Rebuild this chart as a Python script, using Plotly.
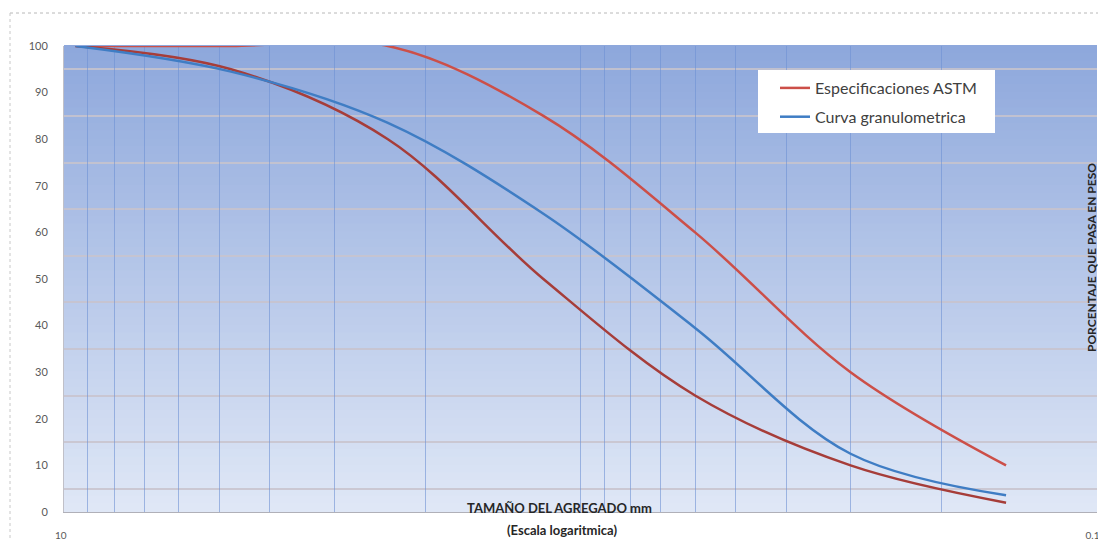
import plotly.graph_objects as go

# ---- data ----
sizes_mm = [9.5, 4.75, 2.36, 1.18, 0.6, 0.3, 0.15]
astm_upper = [100, 100, 100, 85, 60, 30, 10]
astm_lower = [100, 95, 80, 50, 25, 10, 2]
curva_granulometrica = [100, 94.5, 83.5, 64, 39.5, 12.5, 3.6]

x_grid_vals = [10, 9, 8, 7, 6, 5, 4, 3, 2, 1, 0.9, 0.8, 0.7, 0.6, 0.5, 0.4, 0.3, 0.2, 0.1]
x_tick_text = ["10"] + [""] * 17 + ["0.1"]
y_tick_vals = [0, 10, 20, 30, 40, 50, 60, 70, 80, 90, 100]

# page body has an 8px margin: work in screen pixels, convert to figure pixels
OFF = 8
W, H = 1106, 541
SL, SR, ST, SB = 64, 1097, 46, 512          # plot area on screen
L, T = SL - OFF, ST - OFF
R = W - (SR - OFF)
B = H - (SB - OFF)
pw, ph = W - L - R, H - T - B

def px_x(s):
    return (s - OFF - L) / pw

def px_y(s):
    return (H - B - (s - OFF)) / ph

FONT = "Lato, 'Open Sans', sans-serif"

fig = go.Figure()

fig.add_trace(go.Scatter(
    x=sizes_mm, y=astm_upper, mode="lines", name="Especificaciones ASTM",
    legendgroup="astm", line=dict(color="#CC4F48", width=2.5, shape="spline", smoothing=1.0),
))
fig.add_trace(go.Scatter(
    x=sizes_mm, y=astm_lower, mode="lines", name="Especificaciones ASTM",
    legendgroup="astm", showlegend=False,
    line=dict(color="#A63D39", width=2.5, shape="spline", smoothing=1.0),
))
fig.add_trace(go.Scatter(
    x=sizes_mm, y=curva_granulometrica, mode="lines", name="Curva granulometrica",
    legendgroup="curva",
    line=dict(color="#3F7DC4", width=2.5, shape="spline", smoothing=1.0),
))

# vertical gradient background (style only)
shapes = []
n = 60
top_c = (142, 168, 220)
bot_c = (223, 231, 246)
for i in range(n):
    t = i / (n - 1)
    c = tuple(int(round(top_c[k] + (bot_c[k] - top_c[k]) * t)) for k in range(3))
    shapes.append(dict(
        type="rect", xref="paper", yref="paper",
        x0=0, x1=1, y0=1 - (i + 1) / n, y1=1 - i / n + 0.002,
        fillcolor="rgb(%d,%d,%d)" % c, line=dict(width=0), layer="below",
    ))
# legend box
shapes.append(dict(type="rect", xref="paper", yref="paper",
                   x0=px_x(758), x1=px_x(995), y0=px_y(133), y1=px_y(70),
                   fillcolor="white", line=dict(width=0), layer="above"))
# dotted chart frame
shapes.append(dict(type="line", xref="paper", yref="paper",
                   x0=px_x(10), x1=px_x(W + OFF), y0=px_y(13), y1=px_y(13),
                   line=dict(color="#B8B8B8", width=1, dash="dot")))
shapes.append(dict(type="line", xref="paper", yref="paper",
                   x0=px_x(10), x1=px_x(10), y0=px_y(13), y1=px_y(H + OFF),
                   line=dict(color="#C8C8C8", width=1, dash="dot")))

fig.update_layout(
    width=W, height=H,
    margin=dict(l=L, r=R, t=T, b=B, autoexpand=False),
    paper_bgcolor="white",
    plot_bgcolor="rgba(0,0,0,0)",
    font=dict(family=FONT, color="#404040"),
    shapes=shapes,
    showlegend=True,
    legend=dict(
        x=px_x(775), y=px_y(71), xanchor="left", yanchor="top",
        bgcolor="rgba(0,0,0,0)", borderwidth=0,
        font=dict(family=FONT, size=16, color="#404040"),
        itemwidth=30, tracegroupgap=5,
    ),
    xaxis=dict(
        type="log", range=[1, -1],
        tickmode="array", tickvals=x_grid_vals, ticktext=x_tick_text,
        showgrid=True, gridcolor="rgba(110,145,212,0.6)", gridwidth=1.3,
        ticks="", ticklabelstandoff=14,
        ticklabelposition="outside left", ticklabelshift=-3,
        tickfont=dict(size=10, color="#595959"),
        showline=True, linecolor="#B0B0B8", linewidth=1,
        zeroline=False,
    ),
    yaxis=dict(
        range=[0, 100], tickmode="array", tickvals=y_tick_vals,
        showgrid=False, ticks="", ticklabelstandoff=13,
        tickfont=dict(size=11, color="#595959"),
        minor=dict(tick0=5, dtick=10, showgrid=True,
                   gridcolor="rgba(200,195,205,0.85)", gridwidth=1.5, ticks=""),
        showline=True, linecolor="#C0C0C8", linewidth=1,
        zeroline=False,
    ),
    annotations=[
        dict(text="<b>TAMAÑO DEL AGREGADO mm</b>", xref="paper", yref="paper",
             x=px_x(559), y=px_y(508), xanchor="center", yanchor="middle",
             showarrow=False, font=dict(family=FONT, size=13, color="#262626")),
        dict(text="<b>(Escala logaritmica)</b>", xref="paper", yref="paper",
             x=px_x(562), y=px_y(530), xanchor="center", yanchor="middle",
             showarrow=False, font=dict(family=FONT, size=13, color="#262626")),
        dict(text="<b>PORCENTAJE QUE PASA EN PESO</b>", xref="paper", yref="paper",
             x=px_x(1091), y=px_y(258), xanchor="center", yanchor="middle",
             textangle=-90, showarrow=False,
             font=dict(family=FONT, size=12, color="#262626")),
    ],
)

fig.write_html("out.html")
